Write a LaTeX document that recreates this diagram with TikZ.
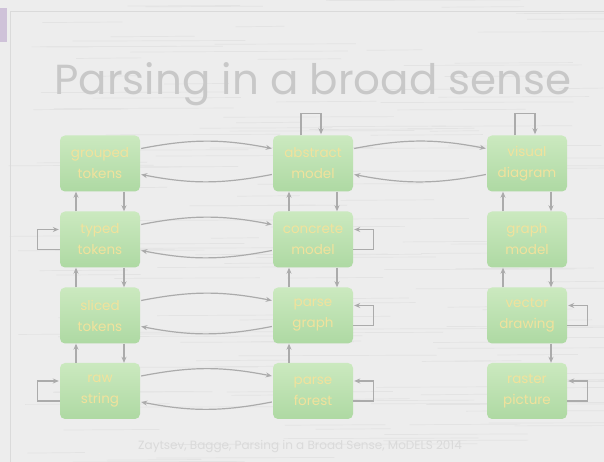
\documentclass[tikz,border=0pt]{standalone}
\usepackage{fontspec}
\setmainfont{Poppins}
\usetikzlibrary{arrows.meta,calc,shadings}

\definecolor{paper}{HTML}{EDEDED}
\definecolor{paperline}{HTML}{E3E3E3}
\definecolor{edge}{HTML}{DADADA}
\definecolor{lilac}{HTML}{CFC2D9}
\definecolor{titlegrey}{HTML}{C8C8C8}
\definecolor{footgrey}{HTML}{DADADA}
\definecolor{boxtop}{HTML}{CBE9BF}
\definecolor{boxbot}{HTML}{AED9A3}
\definecolor{boxtext}{HTML}{F1E29C}
\definecolor{wire}{HTML}{ABABAB}

\tikzset{
  modelbox/.style={rectangle, rounded corners=5pt, minimum width=80pt,
    minimum height=56pt, inner sep=0pt, top color=boxtop, bottom color=boxbot,
    draw=none, text=boxtext, align=center,
    font=\fontsize{13.5}{21}\selectfont},
  conn/.style={draw=wire, line width=1.2pt,
    -{Stealth[length=6pt,width=5pt]}},
}

\begin{document}
\begin{tikzpicture}[x=1pt,y=1pt]
  % paper background and frame
  \fill[paper] (0,0) rectangle (604,462);
  \useasboundingbox (0,0) rectangle (604,462);
  \pgfmathsetseed{7}
  \foreach \i in {1,...,160}{
    \pgfmathsetmacro{\yy}{rnd*462}
    \pgfmathsetmacro{\xx}{rnd*560}
    \pgfmathsetmacro{\ll}{40+rnd*160}
    \draw[paperline, line width=0.7pt] (\xx,\yy) -- ++(\ll,0.6);
  }
  \draw[edge, line width=1pt] (10,0) -- (10,450) -- (604,450);
  \fill[lilac] (0,420) rectangle (7,454);

  % title
  \node[text=titlegrey, font=\fontsize{42}{46}\selectfont] (title) at (313,378)
    {Parsing in a broad sense};

  % models
  \node[modelbox] (gt) at (100,298.5) {grouped\\tokens};
  \node[modelbox] (tt) at (100,222.5) {typed\\tokens};
  \node[modelbox] (st) at (100,146.5) {sliced\\tokens};
  \node[modelbox] (rs) at (100,71)    {raw\\string};

  \node[modelbox] (am) at (313,298.5) {abstract\\model};
  \node[modelbox] (cm) at (313,222.5) {concrete\\model};
  \node[modelbox] (pg) at (313,146.5) {parse\\graph};
  \node[modelbox] (pf) at (313,71)    {parse\\forest};

  \node[modelbox] (vd) at (527,298.5) {visual\\diagram};
  \node[modelbox] (gm) at (527,222.5) {graph\\model};
  \node[modelbox] (vw) at (527,146.5) {vector\\drawing};
  \node[modelbox] (rp) at (527,71)    {raster\\picture};

  % horizontal round trips
  \foreach \a/\b in {gt/am, tt/cm, st/pg, rs/pf, am/vd}{
    \draw[conn] ($(\a.east)+(1,15)$) to[bend left=11] ($(\b.west)+(-1,15)$);
    \draw[conn] ($(\b.west)+(-1,-11)$) to[bend left=11] ($(\a.east)+(1,-11)$);
  }

  % vertical pairs: left goes up, right goes down
  \foreach \lo/\hi in {tt/gt, st/tt, rs/st, cm/am, pg/cm, gm/vd, vw/gm}{
    \draw[conn] ($(\lo.north)+(-24,0)$) -- ($(\hi.south)+(-24,0)$);
    \draw[conn] ($(\hi.south)+(24,0)$) -- ($(\lo.north)+(24,0)$);
  }
  \draw[conn] ($(pf.north)+(-24,0)$) -- ($(pg.south)+(-24,0)$);
  \draw[conn] ($(vw.south)+(24,0)$) -- ($(rp.north)+(24,0)$);

  % self loops on the left
  \foreach \n in {tt, rs}{
    \draw[conn] ($(\n.west)+(0,-10)$) -| ($(\n.west)+(-22,10)$) -- ($(\n.west)+(-1,10)$);
  }
  % self loops on the right
  \foreach \n in {cm, pg, pf, vw, rp}{
    \draw[conn] ($(\n.east)+(0,-10)$) -| ($(\n.east)+(20,10)$) -- ($(\n.east)+(1,10)$);
  }
  % self loops on top
  \foreach \n in {am, vd}{
    \draw[conn] ($(\n.north)+(-12,0)$) |- ($(\n.north)+(8,22)$) -- ($(\n.north)+(8,1)$);
  }

  % footer
  \node[text=footgrey, font=\fontsize{12}{14}\selectfont] (foot) at (300,15)
    {Zaytsev, Bagge, Parsing in a Broad Sense, MoDELS 2014};
\end{tikzpicture}
\end{document}
